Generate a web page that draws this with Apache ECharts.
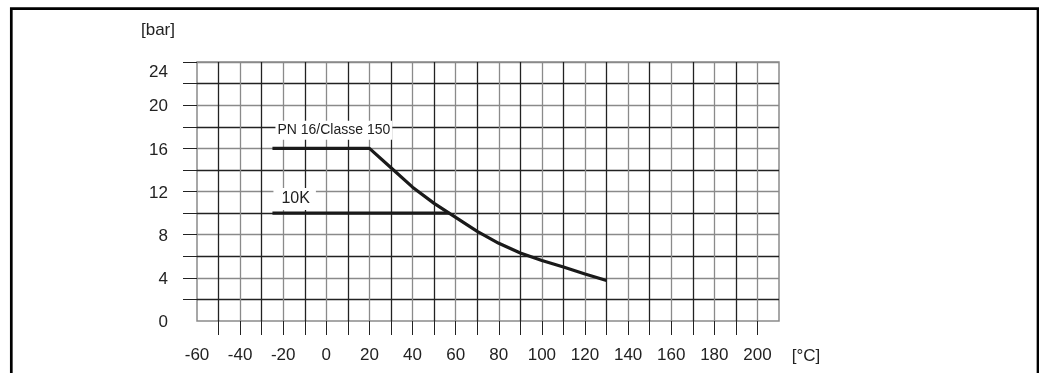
<!DOCTYPE html>
<html>
<head>
<meta charset="utf-8">
<script src="https://cdn.jsdelivr.net/npm/echarts@6/dist/echarts.min.js"></script>
<style>
html,body{margin:0;padding:0;background:#fff;}
#chart{width:1039px;height:373px;}
</style>
</head>
<body>
<div id="chart"></div>
<script>
// ---- data ----
const pn16Name = 'PN 16/Classe 150';
const pn16Temp = [-25, 20, 30, 40, 50, 60, 70, 80, 90, 100, 110, 120, 130];
const pn16Bar  = [16, 16, 14.2, 12.4, 10.9, 9.6, 8.3, 7.2, 6.3, 5.6, 5.0, 4.35, 3.75];
const k10Name = '10K';
const k10Temp = [-25, 57];
const k10Bar  = [10, 10];
const xLabelValues = [-60, -40, -20, 0, 20, 40, 60, 80, 100, 120, 140, 160, 180, 200];
const xTickValues = [-50, -40, -30, -20, -10, 0, 10, 20, 30, 40, 50, 60, 70, 80, 90, 100, 110, 120, 130, 140, 150, 160, 170, 180, 190, 200];
const yLabelValues = [0, 4, 8, 12, 16, 20, 24];
const yTickValues = [2, 4, 6, 8, 10, 12, 14, 16, 18, 20, 22, 24];
const xUnit = '[°C]';
const yUnit = '[bar]';

const FONT = 'Liberation Sans, Arial, Helvetica, sans-serif';
const chart = echarts.init(document.getElementById('chart'), null, {renderer: 'canvas'});

function buildData(xs, ys, labelCfg) {
  return xs.map((x, i) => i === 0 ? {value: [x, ys[i]], label: labelCfg} : [x, ys[i]]);
}

const option = {
  animation: false,
  backgroundColor: '#fff',
  grid: {left: 197, right: 260, top: 62, bottom: 52, show: true, borderColor: '#8a8a8a', borderWidth: 1.5, backgroundColor: 'transparent'},
  xAxis: {
    type: 'value', min: -60, max: 210, interval: 10,
    axisLine: {show: false, onZero: false},
    axisTick: {show: true, customValues: xTickValues, length: 14, lineStyle: {color: '#222', width: 1}},
    axisLabel: {customValues: xLabelValues, margin: 26, fontSize: 17, color: '#222', fontFamily: FONT},
    splitLine: {show: true, lineStyle: {color: ['#222', '#8a8a8a'], width: 1.3}}
  },
  yAxis: {
    type: 'value', min: 0, max: 24, interval: 2,
    axisLine: {show: false, onZero: false},
    axisTick: {show: true, customValues: yTickValues, length: 14, lineStyle: {color: '#222', width: 1}},
    axisLabel: {
      customValues: yLabelValues, margin: 29, fontSize: 17, color: '#222', fontFamily: FONT,
      padding: [3, 0, 0, 0],
      formatter: v => v === 24 ? '{top|24}' : String(v),
      rich: {top: {padding: [17, 0, 0, 0], fontSize: 17, color: '#222', fontFamily: FONT}}
    },
    splitLine: {show: true, lineStyle: {color: ['#222', '#8a8a8a'], width: 1.3}}
  },
  series: [
    {
      name: pn16Name, type: 'line', symbol: 'circle', symbolSize: 0, showSymbol: true,
      lineStyle: {color: '#1a1a1a', width: 3.2, join: 'round'}, itemStyle: {color: '#1a1a1a'},
      label: {show: false},
      data: buildData(pn16Temp, pn16Bar, {
        show: true, position: 'right', distance: 3, offset: [0, -18],
        formatter: pn16Name, fontSize: 14, color: '#222', fontFamily: FONT,
        backgroundColor: '#fff', padding: [3, 2, 2, 2]
      }),
      z: 3
    },
    {
      name: k10Name, type: 'line', symbol: 'circle', symbolSize: 0, showSymbol: true,
      lineStyle: {color: '#1a1a1a', width: 3.2}, itemStyle: {color: '#1a1a1a'},
      label: {show: false},
      data: buildData(k10Temp, k10Bar, {
        show: true, position: 'right', distance: 1, offset: [0, -14],
        formatter: k10Name, fontSize: 16, color: '#222', fontFamily: FONT,
        backgroundColor: '#fff', padding: [4, 6, 2, 8]
      }),
      z: 3
    }
  ],
  graphic: [
    {type: 'rect', shape: {x: 11.3, y: 8.7, width: 1026.7, height: 500}, style: {fill: null, stroke: '#000', lineWidth: 2.7}, silent: true},
    {type: 'text', x: 158, y: 30, style: {text: yUnit, font: '17px ' + FONT, fill: '#222', align: 'center', verticalAlign: 'middle'}},
    {type: 'text', x: 806, y: 356, style: {text: xUnit, font: '17px ' + FONT, fill: '#222', align: 'center', verticalAlign: 'middle'}}
  ]
};
chart.setOption(option);
</script>
</body>
</html>
